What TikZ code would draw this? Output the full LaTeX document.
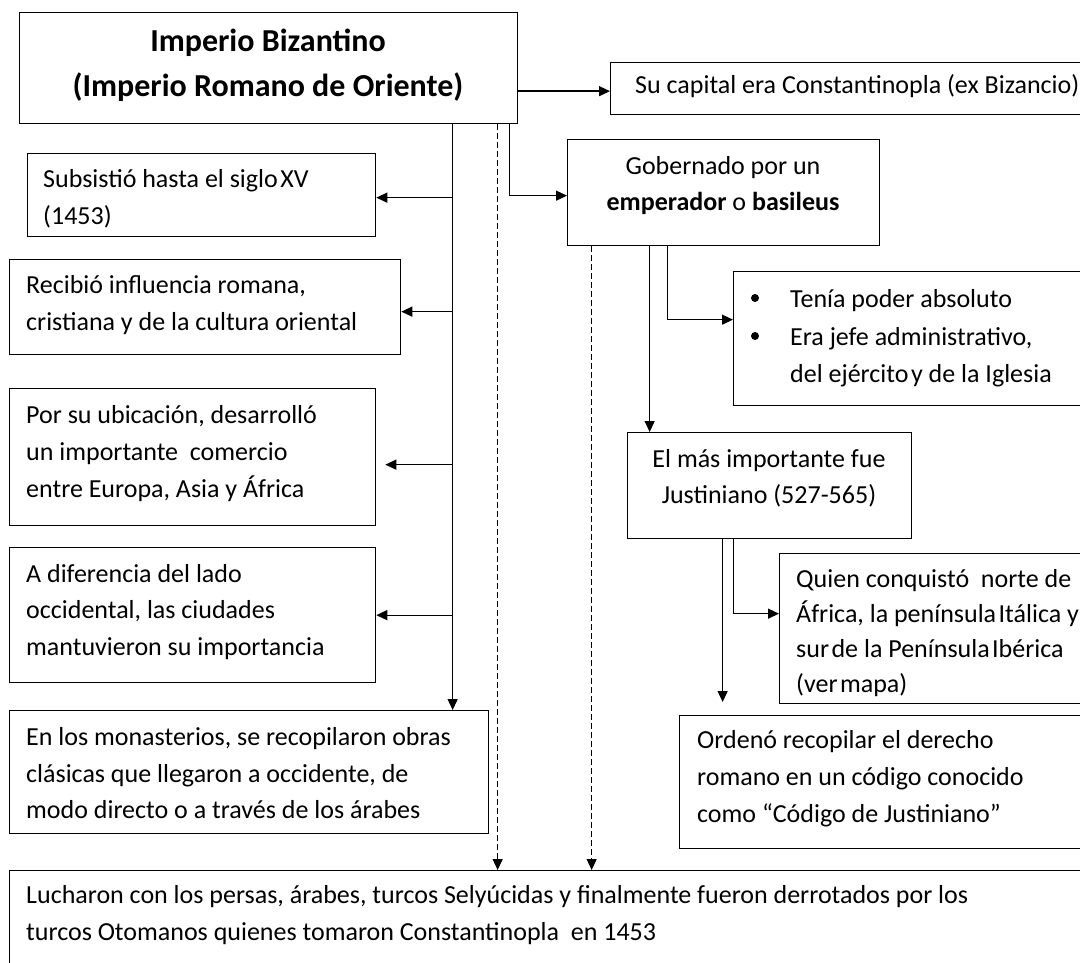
\documentclass[tikz,border=0pt]{standalone}
\usepackage{fontspec}
\setmainfont{Carlito}
\usetikzlibrary{arrows.meta,calc}
\newcommand\bodyf{\fontsize{26pt}{37pt}\selectfont}
\newcommand\titlef{\fontsize{32pt}{45pt}\selectfont\bfseries}
\newcommand\tsp{\hspace{2.5pt}}
\begin{document}
\begin{tikzpicture}[x=1pt,y=-1pt,
  boxst/.style={draw=black,line width=1.3pt,fill=none,inner sep=0pt,anchor=north west,rectangle},
  txt/.style={anchor=base west,inner sep=0pt,font=\bodyf,text=black},
  ctxt/.style={anchor=base,inner sep=0pt,font=\bodyf,text=black},
  ttl/.style={anchor=base,inner sep=0pt,font=\titlef,text=black},
  bul/.style={circle,fill=black,draw=none,inner sep=0pt,minimum size=8pt},
  arr/.style={line width=1.3pt,-{Triangle[length=11pt,width=10pt]}},
  dsh/.style={line width=1.3pt,dash pattern=on 6pt off 3pt,-{Triangle[length=11pt,width=10pt]}}]
\useasboundingbox (0,0) rectangle (1080,963);
\fill[white] (0,0) rectangle (1080,963);
\clip (0,0) rectangle (1080,963);

% boxes
\node[boxst,minimum width=498pt,minimum height=111pt] (T) at (19,12) {};
\node[boxst,minimum width=475pt,minimum height=52pt] (C) at (610,62) {};
\node[boxst,minimum width=312pt,minimum height=106pt] (G) at (567,139) {};
\node[boxst,minimum width=348pt,minimum height=83pt] (S) at (27,153) {};
\node[boxst,minimum width=391pt,minimum height=95pt] (R) at (9,259) {};
\node[boxst,minimum width=366pt,minimum height=137pt] (P) at (9,388) {};
\node[boxst,minimum width=366pt,minimum height=135pt] (A) at (9,547) {};
\node[boxst,minimum width=479pt,minimum height=123pt] (M) at (9,710) {};
\node[boxst,minimum width=1076pt,minimum height=100pt] (B) at (9,870) {};
\node[boxst,minimum width=352pt,minimum height=134pt] (Te) at (733,271) {};
\node[boxst,minimum width=284pt,minimum height=106pt] (E) at (627,432) {};
\node[boxst,minimum width=306pt,minimum height=150pt] (Q) at (779,553) {};
\node[boxst,minimum width=406pt,minimum height=133pt] (O) at (679,715) {};

% texts
\node[ttl] (t1) at (268,52) {Imperio Bizantino};
\node[ttl] (t2) at (268,97) {(Imperio Romano de Oriente)};
\node[txt] (c1) at (635,94) {Su capital era Constantinopla (ex Bizancio)};
\node[ctxt] (g1) at (723,175) {Gobernado por un};
\node[ctxt] (g2) at (723,211) {\textbf{emperador} o \textbf{basileus}};
\node[txt] (s1) at (43,188) {Subsistió hasta el siglo\tsp XV};
\node[txt] (s2) at (43,225) {(1453)};
\node[txt] (r1) at (26,293) {Recibió influencia romana,};
\node[txt] (r2) at (26,330) {cristiana y de la cultura oriental};
\node[txt] (p1) at (26,423) {Por su ubicación, desarrolló};
\node[txt] (p2) at (26,460) {un importante\ \ comercio};
\node[txt] (p3) at (26,497) {entre Europa, Asia y África};
\node[txt] (a1) at (26,582) {A diferencia del lado};
\node[txt] (a2) at (26,618) {occidental, las ciudades};
\node[txt] (a3) at (26,655) {mantuvieron su importancia};
\node[txt] (m1) at (26,745) {En los monasterios, se recopilaron obras};
\node[txt] (m2) at (26,782) {clásicas que llegaron a occidente, de};
\node[txt] (m3) at (26,818) {modo directo o a través de los árabes};
\node[txt] (b1) at (26,903) {Lucharon con los persas, árabes, turcos Selyúcidas y finalmente fueron derrotados por los};
\node[txt] (b2) at (26,940) {turcos Otomanos quienes tomaron Constantinopla\ \ en 1453};
\node[bul] (tb1) at (755,298) {};
\node[bul] (tb2) at (755,336) {};
\node[txt] (te1) at (790,307) {Tenía poder absoluto};
\node[txt] (te2) at (790,345) {Era jefe administrativo,};
\node[txt] (te3) at (790,382) {del ejército\tsp y de la Iglesia};
\node[ctxt] (e1) at (769,467) {El más importante fue};
\node[ctxt] (e2) at (769,503) {Justiniano (527-565)};
\node[txt] (q1) at (796,587) {Quien conquistó\ \ norte de};
\node[txt] (q2) at (796,622) {África, la península\tsp Itálica y};
\node[txt] (q3) at (796,657) {sur\tsp de la Península\tsp Ibérica};
\node[txt] (q4) at (796,692) {(ver\tsp mapa)};
\node[txt] (o1) at (697,748) {Ordenó recopilar el derecho};
\node[txt] (o2) at (697,785) {romano en un código conocido};
\node[txt] (o3) at (697,822) {como “Código de Justiniano”};

% connector coordinates
\coordinate (tk) at ([xshift=184pt]T.south);
\coordinate (d1) at ([xshift=229pt]T.south);
\coordinate (gk) at ([xshift=241pt]T.south);
\coordinate (tc) at ([yshift=-23pt]T.east);
\coordinate (sS) at ([yshift=-2.5pt]S.east);
\coordinate (sR) at ([yshift=-4.5pt]R.east);
\coordinate (sP) at ([xshift=9pt,yshift=-7.5pt]P.east);
\coordinate (sA) at (A.east);
\coordinate (sG) at ([yshift=-3pt]G.west);
\coordinate (d2) at ([xshift=-132pt]G.south);
\coordinate (ge) at ([xshift=-74pt]G.south);
\coordinate (gt) at ([xshift=-56pt]G.south);
\coordinate (sTe) at ([yshift=19pt]Te.west);
\coordinate (eo) at ([xshift=-47pt]E.south);
\coordinate (eq) at ([xshift=-36pt]E.south);
\coordinate (sQ) at ([yshift=15pt]Q.west);

% connectors
\draw[arr] (tc) -- (tc -| C.west);
\draw[arr] (tk) -- (tk |- M.north);
\draw[arr] (sS -| tk) -- (sS);
\draw[arr] (sR -| tk) -- (sR);
\draw[arr] (sP -| tk) -- (sP);
\draw[arr] (sA -| tk) -- (sA);
\draw[dsh] (d1) -- (d1 |- B.north);
\draw[arr] (gk) |- (sG);
\draw[dsh] (d2) -- (d2 |- B.north);
\draw[arr] (ge) -- (ge |- E.north);
\draw[arr] (gt) |- (sTe);
\draw[arr,shorten >=13pt] (eo) -- (eo |- O.north);
\draw[arr] (eq) |- (sQ);
\end{tikzpicture}
\end{document}
